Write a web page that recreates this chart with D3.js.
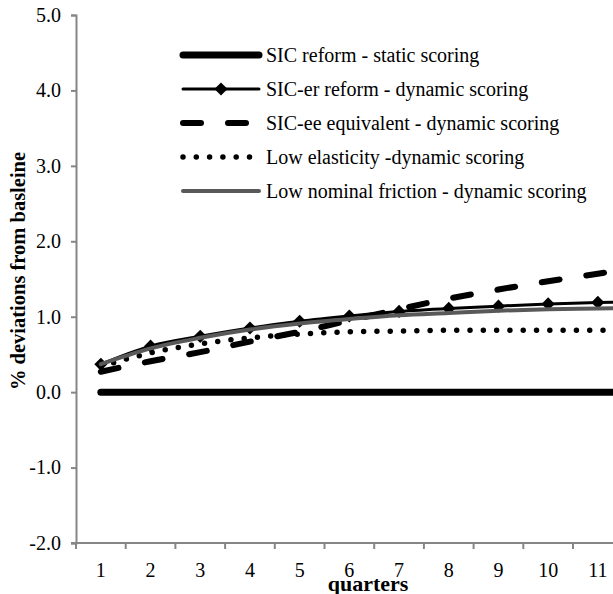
<!DOCTYPE html>
<html>
<head>
<meta charset="utf-8">
<script src="https://cdn.jsdelivr.net/npm/d3@7"></script>
<style>
  html, body { margin: 0; padding: 0; background: #fff; }
  svg { display: block; overflow: hidden; }
</style>
</head>
<body>
<svg id="chart" width="613" height="594"></svg>
<script>
// ----------

const QUARTERS = [1, 2, 3, 4, 5, 6, 7, 8, 9, 10, 11, 12];
const Y_TICKS = [-2, -1, 0, 1, 2, 3, 4, 5];

const STATIC_SCORING = [0, 0, 0, 0, 0, 0, 0, 0, 0, 0, 0, 0];
const SIC_ER_DYNAMIC = [0.37, 0.61, 0.74, 0.85, 0.94, 1.01, 1.07, 1.11, 1.14, 1.17, 1.19, 1.2];
const SIC_EE_DYNAMIC = [0.27, 0.41, 0.53, 0.67, 0.8, 0.95, 1.1, 1.24, 1.36, 1.47, 1.57, 1.66];
const LOW_ELASTICITY = [0.34, 0.52, 0.64, 0.72, 0.77, 0.8, 0.81, 0.82, 0.82, 0.82, 0.82, 0.82];
const LOW_FRICTION = [0.37, 0.58, 0.72, 0.83, 0.91, 0.97, 1.02, 1.05, 1.08, 1.1, 1.11, 1.12];

const SERIES = [
  { name: "SIC reform - static scoring", values: STATIC_SCORING, style: "static" },
  { name: "SIC-er reform - dynamic scoring", values: SIC_ER_DYNAMIC, style: "diamond" },
  { name: "SIC-ee equivalent - dynamic scoring", values: SIC_EE_DYNAMIC, style: "dash" },
  { name: "Low elasticity -dynamic scoring", values: LOW_ELASTICITY, style: "dot" },
  { name: "Low nominal friction - dynamic scoring", values: LOW_FRICTION, style: "gray" },
];

const AXIS_COLOR = "#868686";
const FONT = "Liberation Serif";
const BAND = 49.7;

// line styles, roughly as in the Excel original
const STYLE_MAP = {
  static: { stroke: "#000", width: 7, dash: null, cap: "round" },
  diamond: { stroke: "#000", width: 3, dash: null, cap: "round" },
  dash: { stroke: "#000", width: 6, dash: "18,27", cap: "round" },
  dot: { stroke: "#000", width: 5.5, dash: "0,13.3", cap: "round" },
  gray: { stroke: "#595959", width: 4, dash: null, cap: "round" },
};

// ----------

const svg = d3.select("#chart").attr("font-family", FONT);
const plotLeft = 76, plotTop = 15, plotBottom = 543;

const x = d3.scaleBand().domain(QUARTERS).range([plotLeft, plotLeft + BAND * QUARTERS.length]);
const y = d3.scaleLinear().domain([-2, 5]).range([plotBottom, plotTop]);

function cx(q) {
  return x(q) + x.bandwidth() / 2;
}

// excel writes a plain hyphen, not the unicode minus
const fmt = (d) => d3.format(".1f")(d).replace("\u2212", "-");

// y axis
const yAxis = svg.append("g").attr("transform", `translate(${plotLeft},0)`)
  .call(d3.axisLeft(y).tickValues(Y_TICKS).tickFormat(fmt).tickSize(5).tickPadding(10));
yAxis.attr("font-family", FONT).attr("font-size", 20);
yAxis.select(".domain").attr("stroke", AXIS_COLOR).attr("stroke-width", 2);
yAxis.selectAll(".tick line").attr("stroke", AXIS_COLOR).attr("stroke-width", 2);
yAxis.selectAll(".tick text").attr("fill", "#000");

// x axis: ticks sit between categories
const xg = svg.append("g");
xg.append("line")
  .attr("x1", plotLeft - 5).attr("x2", x.range()[1])
  .attr("y1", plotBottom).attr("y2", plotBottom)
  .attr("stroke", AXIS_COLOR).attr("stroke-width", 2);
xg.selectAll(".xtick")
  .data(QUARTERS)
  .enter()
  .append("line")
  .attr("x1", (d) => x(d)).attr("x2", (d) => x(d))
  .attr("y1", plotBottom).attr("y2", plotBottom + 6)
  .attr("stroke", AXIS_COLOR).attr("stroke-width", 2);
xg.selectAll(".xlabel")
  .data(QUARTERS)
  .enter()
  .append("text")
  .attr("x", cx)
  .attr("y", plotBottom + 34)
  .attr("text-anchor", "middle")
  .attr("font-family", FONT)
  .attr("font-size", 20)
  .text((d) => d);

svg.append("text")
  .attr("x", 368).attr("y", 591)
  .attr("text-anchor", "middle")
  .attr("font-family", FONT)
  .attr("font-size", 22).attr("font-weight", "bold")
  .text("quarters");

svg.append("text")
  .attr("transform", "translate(25,271) rotate(-90)")
  .attr("text-anchor", "middle")
  .attr("font-family", FONT)
  .attr("font-size", 20.5).attr("font-weight", "bold")
  .text("% deviations from basleine");

// series
const line = d3.line()
  .x((d, i) => cx(QUARTERS[i]))
  .y((d) => y(d))
  .curve(d3.curveMonotoneX);

function styleLine(sel, s) {
  const st = STYLE_MAP[s.style];
  sel.attr("fill", "none")
    .attr("stroke", st.stroke)
    .attr("stroke-width", st.width)
    .attr("stroke-linecap", st.cap)
    .attr("stroke-linejoin", "round")
    .attr("stroke-dasharray", st.dash);
}

const diamond = d3.symbol().type(d3.symbolDiamond2).size(110);

const drawOrder = [SERIES[0], SERIES[2], SERIES[3], SERIES[1], SERIES[4]];
drawOrder.forEach(function (s) {
  svg.append("path").datum(s.values).attr("d", line).call(styleLine, s);
  if (s.style === "diamond") {
    svg.selectAll(".marker")
      .data(s.values)
      .enter()
      .append("path")
      .attr("d", diamond)
      .attr("transform", (d, i) => `translate(${cx(QUARTERS[i])},${y(d)})`)
      .attr("fill", "#000");
  }
});

// legend
const legend = svg.append("g").attr("transform", "translate(183,55)");
SERIES.forEach(function (s, i) {
  const row = legend.append("g").attr("transform", `translate(0,${i * 34})`);
  row.append("path").datum([[0, 0], [76, 0]])
    .attr("d", d3.line())
    .call(styleLine, s);
  if (s.style === "diamond") {
    row.append("path").attr("d", diamond).attr("transform", "translate(38,0)").attr("fill", "#000");
  }
  row.append("text")
    .attr("x", 83).attr("y", 7)
    .attr("font-family", FONT)
    .attr("font-size", 20)
    .text(s.name);
});
</script>
</body>
</html>
